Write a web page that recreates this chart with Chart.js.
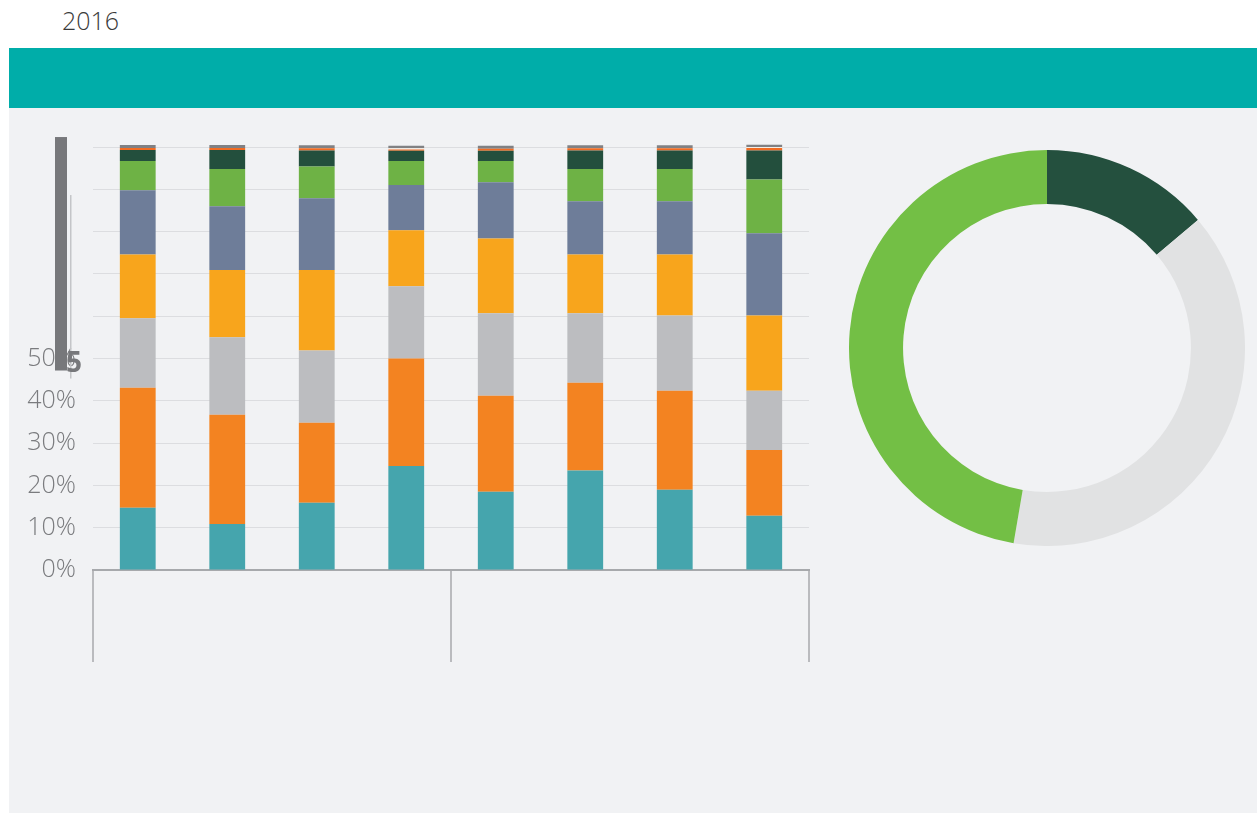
<!DOCTYPE html>
<html>
<head>
<meta charset="utf-8">
<script src="https://cdn.jsdelivr.net/npm/chart.js@4.4.0/dist/chart.umd.min.js"></script>
<style>
  html, body { margin: 0; padding: 0; background: #fff; }
  body { width: 1257px; height: 814px; position: relative; overflow: hidden; font-family: "Open Sans", sans-serif; }
  .year { position: absolute; left: 62px; top: 3px; font-size: 25px; font-weight: 300; color: #3a3a3a; }
  .banner { position: absolute; left: 9px; top: 48px; width: 1248px; height: 60px; background: #00ada9; }
  .panel { position: absolute; left: 9px; top: 108px; width: 1248px; height: 705px; background: #f1f2f4; }
  #barWrap { position: absolute; left: 9px; top: 121px; width: 820px; height: 560px; }
  #donutWrap { position: absolute; left: 849px; top: 150px; width: 396px; height: 396px; }
</style>
</head>
<body>
<div class="year">2016</div>
<div class="banner"></div>
<div class="panel"></div>
<div id="barWrap"><canvas id="barChart"></canvas></div>
<div id="donutWrap"><canvas id="donutChart"></canvas></div>
<script>
// eight columns, two groups of four
const categories = ['', '', '', '', '', '', '', ''];
const yTicks = [0, 10, 20, 30, 40, 50];

// stacked shares per column, bottom to top
const tealShare   = [14.7, 10.9, 15.9, 24.6, 18.5, 23.5, 19.0, 12.8];
const orangeShare = [28.4, 25.8, 18.9, 25.4, 22.7, 20.8, 23.4, 15.6];
const greyShare   = [16.4, 18.3, 17.1, 17.1, 19.5, 16.4, 17.8, 14.0];
const amberShare  = [15.1, 15.9, 19.0, 13.2, 17.7, 13.9, 14.4, 17.8];
const slateShare  = [15.2, 15.1, 17.0, 10.7, 13.3, 12.6, 12.6, 19.4];
const greenShare  = [6.9, 8.8, 7.5, 5.7, 5.0, 7.6, 7.6, 12.7];
const forestShare = [2.6, 4.5, 3.8, 2.4, 2.4, 4.4, 4.4, 6.9];
const redShare    = [0.5, 0.5, 0.5, 0.3, 0.5, 0.5, 0.5, 0.6];
const paleShare   = [0, 0, 0, 0.3, 0, 0, 0, 0.2];
const topShare    = [0.7, 0.7, 0.7, 0.6, 0.7, 0.7, 0.7, 0.6];

// ring on the right
const ringLabels = ['A', 'B', 'C'];
const ringValues = [13.8, 38.9, 47.3];

const series = [
  { data: tealShare,   color: '#45a5ad' },
  { data: orangeShare, color: '#f38321' },
  { data: greyShare,   color: '#bcbdc0' },
  { data: amberShare,  color: '#f8a51c' },
  { data: slateShare,  color: '#6e7d99' },
  { data: greenShare,  color: '#6eb245' },
  { data: forestShare, color: '#234f3d' },
  { data: redShare,    color: '#f26b22' },
  { data: paleShare,   color: '#f3eee6' },
  { data: topShare,    color: '#808184' }
];

const labelFont = { family: '"Open Sans", sans-serif', size: 25, weight: '300' };

// group separators hanging under the x axis, plus the smeared label at 50%
const extras = {
  id: 'extras',
  afterDraw(chart) {
    const { ctx, chartArea } = chart;
    const xs = chart.scales.x;
    const ys = chart.scales.y;
    const base = ys.getPixelForValue(0);
    const mid = (xs.getPixelForTick(3) + xs.getPixelForTick(4)) / 2;
    ctx.save();
    ctx.strokeStyle = '#a7a9ac';
    ctx.lineWidth = 1.5;
    [chartArea.left, mid, chartArea.right].forEach(x => {
      ctx.beginPath();
      ctx.moveTo(x, base);
      ctx.lineTo(x, base + 92);
      ctx.stroke();
    });

    const y50 = ys.getPixelForValue(50);
    const y100 = ys.getPixelForValue(100);
    const top = y100 - 10, bottom = y50 + 12;
    const left = chartArea.left - 38;
    ctx.fillStyle = '#77787b';
    ctx.fillRect(left, top, 12, bottom - top);
    ctx.fillStyle = '#c4c5c8';
    ctx.fillRect(left + 15, top + 58, 1.5, bottom - top - 50);

    ctx.fillStyle = '#77787b';
    ctx.textBaseline = 'alphabetic';
    ctx.textAlign = 'left';
    ctx.font = '700 28px "Open Sans", sans-serif';
    ctx.fillText('5', chartArea.left - 27, y50 + 13);
    ctx.restore();
  }
};

new Chart(document.getElementById('barChart'), {
  type: 'bar',
  data: {
    labels: categories,
    datasets: series.map(s => ({
      data: s.data,
      backgroundColor: s.color,
      borderWidth: 0,
      barPercentage: 0.4,
      categoryPercentage: 1
    }))
  },
  options: {
    responsive: true,
    maintainAspectRatio: false,
    animation: false,
    layout: { padding: { top: 23.5, right: 20, bottom: 0, left: 0 } },
    plugins: { legend: { display: false }, tooltip: { enabled: false } },
    scales: {
      x: {
        stacked: true,
        grid: { display: false },
        border: { display: true, color: '#a7a9ac', width: 2 },
        ticks: { display: false },
        afterFit: s => { s.height = 111; s.paddingLeft = 0; s.paddingRight = 0; }
      },
      y: {
        stacked: true,
        min: 0,
        max: 100.6,
        afterBuildTicks: s => {
          s.ticks = [0, 10, 20, 30, 40, 50, 60, 70, 80, 90, 100].map(v => ({ value: v }));
        },
        afterFit: s => { s.width = 84; s.paddingTop = 0; s.paddingBottom = 0; },
        grid: { color: '#dcdde0', lineWidth: 1, drawTicks: false },
        border: { display: false },
        ticks: {
          padding: 17,
          color: '#7a7b7e',
          font: labelFont,
          callback: v => yTicks.includes(v) ? v + '%' : ''
        }
      }
    }
  },
  plugins: [extras]
});

new Chart(document.getElementById('donutChart'), {
  type: 'doughnut',
  data: {
    labels: ringLabels,
    datasets: [{
      data: ringValues,
      backgroundColor: ['#24503e', '#e1e2e3', '#73bf45'],
      borderWidth: 0
    }]
  },
  options: {
    responsive: true,
    maintainAspectRatio: false,
    animation: false,
    cutout: '72.7%',
    plugins: { legend: { display: false }, tooltip: { enabled: false } }
  }
});
</script>
</body>
</html>
